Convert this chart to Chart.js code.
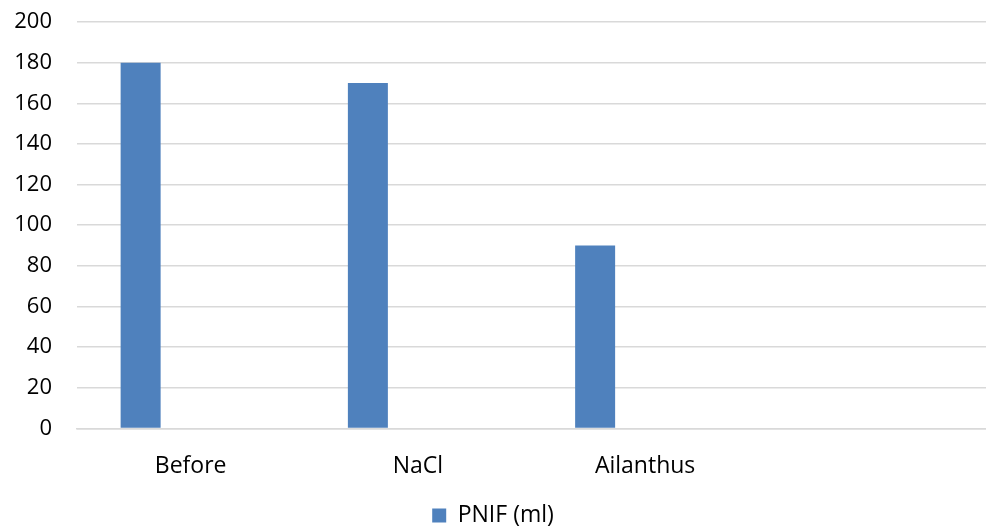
<!DOCTYPE html>
<html>
<head>
<meta charset="utf-8">
<script src="https://cdn.jsdelivr.net/npm/chart.js@4.4.1/dist/chart.umd.min.js"></script>
<style>
  body { margin: 0; background: #fff; }
  #wrap { width: 986px; height: 529px; position: relative; }
</style>
</head>
<body>
<div id="wrap"><canvas id="chart"></canvas></div>
<script>
// Data
const categories = ['Before', 'NaCl', 'Ailanthus', ''];
const pnifValues = [180, 170, 90, null];
const emptySeries = [null, null, null, null]; // unused second series slot, as in the source chart
const yTicks = [0, 20, 40, 60, 80, 100, 120, 140, 160, 180, 200];

const ctx = document.getElementById('chart').getContext('2d');

new Chart(ctx, {
    type: 'bar',
    data: {
        labels: categories,
        datasets: [{
            label: 'PNIF (ml)',
            data: pnifValues,
            backgroundColor: '#4F81BD',
            barPercentage: 0.4,
            categoryPercentage: 0.88
        }, {
            label: '',
            data: emptySeries,
            backgroundColor: '#C0504D',
            barPercentage: 0.4,
            categoryPercentage: 0.88
        }]
    },
    options: {
        responsive: true,
        maintainAspectRatio: false,
        animation: false,
        layout: {
            padding: { top: 22, right: 0, bottom: -8, left: 0 }
        },
        scales: {
            x: {
                grid: { display: false },
                border: { display: true, color: '#d9d9d9', width: 1.5 },
                ticks: {
                    color: '#000',
                    padding: 16,
                    font: { family: 'Open Sans', size: 23 }
                }
            },
            y: {
                min: 0,
                max: 200,
                afterBuildTicks: scale => {
                    scale.ticks = yTicks.map(v => ({ value: v }));
                },
                afterFit: scale => {
                    // fixed axis width; drop the extra top/bottom room the tick padding adds
                    scale.width = 77;
                    scale.paddingTop = 0;
                    scale.paddingBottom = 0;
                },
                grid: { color: '#d9d9d9', lineWidth: 1.5, drawTicks: false },
                border: { display: false },
                ticks: {
                    color: '#000',
                    padding: 25,
                    font: { family: 'Open Sans', size: 22 }
                }
            }
        },
        plugins: {
            tooltip: { enabled: false },
            legend: {
                position: 'bottom',
                labels: {
                    color: '#000',
                    boxWidth: 14,
                    boxHeight: 14,
                    padding: 8,
                    font: { family: 'Open Sans', size: 23 },
                    filter: item => item.datasetIndex === 0
                }
            }
        }
    }
});
</script>
</body>
</html>
